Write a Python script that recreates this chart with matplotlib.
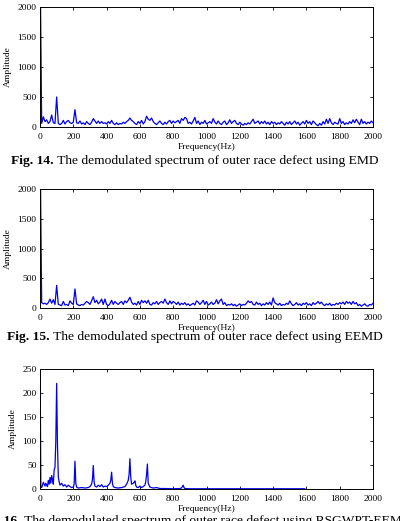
import matplotlib
matplotlib.use("Agg")
import matplotlib.pyplot as plt
import numpy as np

plt.rcParams['font.family'] = ['Liberation Serif', 'DejaVu Serif']

# ---------------- data ----------------
freq_step = 10
amp_emd = [3000, 60, 170, 90, 120, 60, 90, 200, 70, 60,
           500, 60, 40, 60, 110, 50, 90, 110, 70, 60,
           80, 290, 70, 60, 100, 50, 70, 40, 90, 60,
           40, 80, 140, 100, 60, 100, 60, 90, 60, 70,
           50, 90, 60, 110, 60, 40, 70, 40, 60, 50,
           80, 60, 90, 110, 150, 110, 90, 60, 40, 90,
           60, 110, 50, 90, 180, 130, 110, 150, 90, 60,
           40, 70, 100, 60, 40, 80, 50, 90, 110, 60,
           100, 70, 90, 110, 60, 140, 110, 160, 140, 60,
           80, 50, 100, 160, 60, 100, 40, 80, 60, 110,
           50, 70, 90, 60, 140, 80, 50, 100, 60, 40,
           80, 100, 40, 70, 120, 60, 90, 110, 60, 40,
           80, 50, 30, 60, 40, 70, 50, 90, 130, 60,
           80, 100, 50, 90, 60, 100, 50, 80, 40, 90,
           60, 80, 40, 70, 50, 90, 60, 30, 80, 50,
           90, 40, 70, 100, 50, 80, 30, 60, 90, 50,
           110, 60, 90, 40, 100, 70, 40, 20, 60, 30,
           90, 50, 130, 60, 140, 70, 40, 80, 60, 50,
           140, 60, 90, 40, 70, 50, 90, 60, 120, 70,
           130, 80, 40, 130, 60, 90, 50, 80, 60, 100,
           70]
amp_eemd = [3000, 90, 70, 80, 60, 90, 150, 80, 140, 60,
            380, 60, 50, 40, 110, 50, 60, 40, 120, 80,
            60, 320, 70, 50, 40, 60, 50, 80, 110, 90,
            60, 120, 190, 90, 130, 70, 100, 150, 60, 150,
            60, 40, 70, 130, 60, 110, 80, 60, 90, 110,
            60, 120, 90, 130, 180, 100, 60, 80, 50, 110,
            60, 130, 90, 120, 80, 130, 60, 50, 90, 70,
            110, 60, 90, 110, 80, 150, 90, 60, 120, 70,
            110, 90, 60, 100, 50, 80, 60, 90, 50, 70,
            40, 60, 80, 50, 120, 100, 60, 90, 130, 60,
            110, 50, 70, 100, 60, 80, 140, 70, 120, 150,
            60, 90, 40, 60, 50, 70, 40, 60, 30, 50,
            70, 40, 60, 50, 80, 120, 90, 110, 60, 50,
            100, 60, 80, 40, 70, 50, 90, 60, 100, 50,
            170, 90, 70, 50, 80, 40, 60, 50, 80, 60,
            120, 70, 40, 60, 90, 50, 70, 40, 80, 60,
            90, 50, 70, 40, 90, 60, 80, 110, 70, 100,
            60, 40, 70, 50, 80, 40, 60, 50, 80, 60,
            90, 70, 100, 60, 110, 80, 100, 60, 110, 70,
            90, 40, 60, 30, 50, 70, 40, 30, 60, 50,
            80]
freq_rsg = [0, 5, 10, 15, 20, 25, 30, 35, 40, 45,
            50, 55, 60, 65, 70, 75, 80, 85, 90, 95,
            100, 105, 110, 115, 120, 130, 140, 150, 160, 170,
            180, 190, 200, 205, 210, 215, 220, 230, 250, 270,
            290, 300, 310, 315, 320, 325, 330, 340, 350, 360,
            370, 380, 390, 400, 410, 420, 425, 430, 435, 440,
            450, 470, 490, 510, 520, 530, 535, 540, 545, 550,
            560, 565, 570, 575, 580, 590, 600, 610, 620, 630,
            635, 640, 645, 650, 660, 680, 700, 720, 750, 800,
            840, 850, 855, 860, 865, 870, 900, 1000, 1200, 1400,
            1590]
amp_rsg = [300, 5, 3, 8, 14, 10, 6, 12, 8, 5,
           18, 10, 24, 12, 28, 20, 10, 40, 45, 100,
           220, 90, 25, 15, 8, 12, 6, 9, 4, 8,
           5, 3, 4, 10, 58, 12, 4, 2, 3, 2,
           3, 5, 10, 20, 49, 15, 6, 4, 8, 5,
           9, 4, 6, 5, 8, 12, 18, 35, 12, 5,
           3, 2, 3, 5, 10, 18, 30, 63, 25, 10,
           12, 14, 17, 8, 4, 3, 6, 3, 5, 8,
           15, 30, 52, 12, 4, 2, 3, 1, 1, 0.5,
           1, 2, 5, 8, 3, 1, 0.5, 0.5, 0.5, 0.5,
           0.5]

x_ticks = [0, 200, 400, 600, 800, 1000, 1200, 1400, 1600, 1800, 2000]
y_ticks_big = [0, 500, 1000, 1500, 2000]
y_ticks_small = [0, 50, 100, 150, 200, 250]
captions = [("Fig. 14.", " The demodulated spectrum of outer race defect using EMD"),
            ("Fig. 15.", " The demodulated spectrum of outer race defect using EEMD"),
            ("Fig. 16.", " The demodulated spectrum of outer race defect using RSGWPT-EEMD")]

freq_emd = np.arange(len(amp_emd)) * freq_step
freq_eemd = np.arange(len(amp_eemd)) * freq_step

# ---------------- figure ----------------
W, H = 400, 521
fig = plt.figure(figsize=(W / 100, H / 100), dpi=100)

def px_axes(top, bottom, left=40, right=373):
    return fig.add_axes([left / W, 1 - bottom / H, (right - left) / W, (bottom - top) / H])

axes = [px_axes(7, 127), px_axes(189, 308), px_axes(369, 489)]
series = [(freq_emd, amp_emd, y_ticks_big, 2000),
          (freq_eemd, amp_eemd, y_ticks_big, 2000),
          (freq_rsg, amp_rsg, y_ticks_small, 250)]

for ax, (f, a, yt, ymax) in zip(axes, series):
    ax.plot(f, a, color='#0000ee', lw=0.9)
    ax.set_xlim(0, 2000)
    ax.set_ylim(0, ymax)
    ax.set_xticks(x_ticks)
    ax.set_yticks(yt)
    ax.tick_params(direction='in', length=2.5, width=0.6, labelsize=6.8,
                   top=True, right=True)
    ax.tick_params(axis='x', pad=4)
    ax.tick_params(axis='y', pad=2.5)
    for s in ax.spines.values():
        s.set_linewidth(0.7)
    ax.set_xlabel("Frequency(Hz)", fontsize=6.8, labelpad=1.5)
    ax.set_ylabel("Amplitude", fontsize=6.8, labelpad=4)

# captions with bold prefix
cap_y = [161, 337, 521]
cap_cx = 195
renderer = fig.canvas.get_renderer()
for (bold, rest), yp in zip(captions, cap_y):
    y = 1 - yp / H
    tb = fig.text(0, y, bold, fontsize=9.7, fontweight='bold', ha='left', va='center')
    tr = fig.text(0, y, rest, fontsize=9.7, ha='left', va='center')
    wb = tb.get_window_extent(renderer).width
    wr = tr.get_window_extent(renderer).width
    x0 = cap_cx - (wb + wr) / 2
    tb.set_x(x0 / W)
    tr.set_x((x0 + wb) / W)

fig.savefig("out.png", dpi=100)
